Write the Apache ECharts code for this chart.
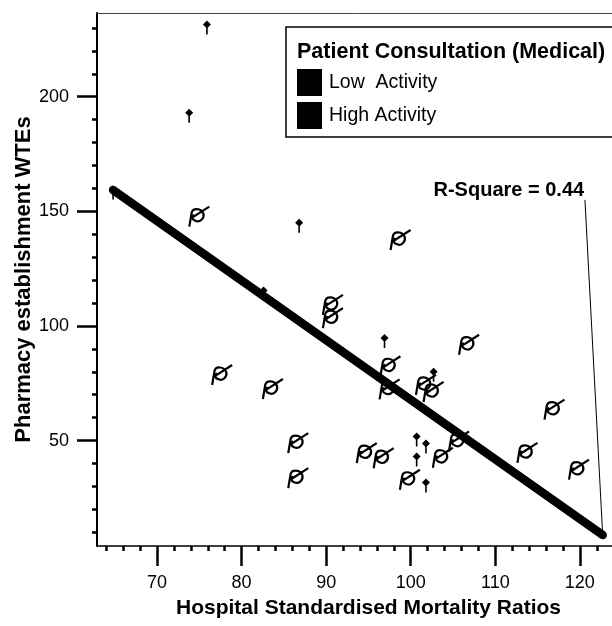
<!DOCTYPE html>
<html><head><meta charset="utf-8">
<script src="https://cdn.jsdelivr.net/npm/echarts@6/dist/echarts.min.js"></script>
<style>html,body{margin:0;padding:0;background:#fff}#c{width:612px;height:626px}</style>
</head><body><div id="c"></div>
<script>
// ---- data ----
const lowX = [75.9, 73.8, 86.8, 82.6, 96.9, 102.7, 100.7, 101.8, 100.7, 101.8, 64.8];
const lowY = [231.5, 193.0, 145.0, 115.4, 94.7, 80.0, 51.8, 48.7, 43.0, 31.7, 159.5];
const highX = [75.0, 98.8, 90.8, 90.8, 77.7, 83.7, 86.7, 86.7, 94.8, 96.8, 99.9, 103.8, 105.7, 106.9, 117.0, 113.8, 119.9, 97.6, 97.5, 101.8, 102.7];
const highY = [147.7, 137.5, 109.2, 103.4, 78.6, 72.5, 48.9, 33.6, 44.5, 42.3, 32.9, 42.5, 49.6, 91.8, 63.5, 44.6, 37.3, 82.4, 72.3, 74.3, 71.2];
const fitX = [64.8, 122.7];
const fitY = [159.3, 8.8];
const leaderX = [120.6, 122.7];
const leaderY = [155, 8.8];
const rSquareText = 'R-Square = 0.44';
const rSquareAt = [111.6, 159];
const xMajorTicks = [70, 80, 90, 100, 110, 120];
const xMinorTicks = [64, 66, 68, 72, 74, 76, 78, 82, 84, 86, 88, 92, 94, 96, 98, 102, 104, 106, 108, 112, 114, 116, 118, 122];
const yMajorTicks = [50, 100, 150, 200];
const yMinorTicks = [10, 20, 30, 40, 60, 70, 80, 90, 110, 120, 130, 140, 160, 170, 180, 190, 210, 220, 230];
const seriesNames = ['Low  Activity', 'High Activity'];
const legendTitle = 'Patient Consultation (Medical)';
const xTitle = 'Hospital Standardised Mortality Ratios';
const yTitle = 'Pharmacy establishment WTEs';

// ---- chart ----
const FONT = '"Liberation Sans", Arial, Helvetica, sans-serif';
const zip = (a, b) => a.map((v, i) => [v, b[i]]);
const XMIN = 62.9, XMAX = 123.8, YMIN = 4, YMAX = 236.5;
const diamondPath = 'path://M4,0 L8,4 L4,8 L0,4 Z M3.2,7 L4.8,7 L4.8,14 L3.2,14 Z';
const loopPath = 'path://M2,20 L4,8 C5,4 12,4 14,9 C15,13 11,17 7,15 C4,14 4,11 6,10 M5,12 L19,3';

const chart = echarts.init(document.getElementById('c'), null, {renderer: 'canvas'});
const base = {type: 'value', splitLine: {show: false}};
chart.setOption({
  animation: false,
  backgroundColor: '#fff',
  textStyle: {fontFamily: FONT, color: '#000'},
  title: {
    text: legendTitle, left: 297, top: 41, padding: 0,
    textStyle: {fontSize: 21.5, fontWeight: 'bold', color: '#000', fontFamily: FONT}
  },
  legend: {
    data: [
      {name: seriesNames[0], icon: 'rect', itemStyle: {color: '#000', borderWidth: 0, opacity: 1}},
      {name: seriesNames[1], icon: 'rect', itemStyle: {color: '#000', borderColor: '#000', borderWidth: 0, opacity: 1}}
    ],
    orient: 'vertical', left: 286, top: 27,
    itemWidth: 25, itemHeight: 27, itemGap: 6,
    padding: [42, 400, 8, 11],
    borderColor: '#000', borderWidth: 1.5,
    selectedMode: false,
    textStyle: {fontSize: 19.5, color: '#000', fontFamily: FONT, padding: [0, 0, 0, 2]}
  },
  grid: {left: 97, right: 0, top: 13, bottom: 80, containLabel: false},
  xAxis: [
    Object.assign({}, base, {
      min: XMIN, max: XMAX, position: 'bottom',
      axisLine: {show: true, onZero: false, lineStyle: {color: '#000', width: 1.5}},
      axisTick: {show: true, customValues: xMajorTicks, length: 20, lineStyle: {color: '#000', width: 2.5}},
      axisLabel: {customValues: xMajorTicks, margin: 28, fontSize: 18, color: '#000', fontFamily: FONT},
      name: xTitle, nameLocation: 'middle', nameGap: 52, nameMoveOverlap: false,
      nameTextStyle: {fontSize: 21, fontWeight: 'bold', color: '#000', fontFamily: FONT, padding: [0, 0, 0, 28]}
    }),
    Object.assign({}, base, {
      min: XMIN, max: XMAX, position: 'bottom',
      axisLine: {show: false, onZero: false},
      axisTick: {show: true, customValues: xMinorTicks, length: 5, lineStyle: {color: '#000', width: 2.5}},
      axisLabel: {show: false}
    }),
    Object.assign({}, base, {
      min: XMIN, max: XMAX, position: 'top',
      axisLine: {show: true, onZero: false, lineStyle: {color: '#444', width: 1}},
      axisTick: {show: false}, axisLabel: {show: false}
    })
  ],
  yAxis: [
    Object.assign({}, base, {
      min: YMIN, max: YMAX, position: 'left',
      axisLine: {show: true, onZero: false, lineStyle: {color: '#000', width: 2}},
      axisTick: {show: true, customValues: yMajorTicks, length: 20, lineStyle: {color: '#000', width: 2.5}},
      axisLabel: {customValues: yMajorTicks, margin: 28, fontSize: 18, color: '#000', fontFamily: FONT},
      name: yTitle, nameLocation: 'middle', nameGap: 62, nameMoveOverlap: false,
      nameTextStyle: {fontSize: 22, fontWeight: 'bold', color: '#000', fontFamily: FONT}
    }),
    Object.assign({}, base, {
      min: YMIN, max: YMAX, position: 'left',
      axisLine: {show: false, onZero: false},
      axisTick: {show: true, customValues: yMinorTicks, length: 5, lineStyle: {color: '#000', width: 2.5}},
      axisLabel: {show: false}
    })
  ],
  series: [
    {
      name: 'fit', type: 'line', data: zip(fitX, fitY), symbol: 'none', z: 3,
      lineStyle: {color: '#000', width: 8.5, cap: 'round'}, silent: true
    },
    {
      name: 'leader', type: 'line', data: zip(leaderX, leaderY), symbol: 'none', z: 3,
      lineStyle: {color: '#000', width: 1}, silent: true
    },
    {
      name: seriesNames[0], type: 'scatter', data: zip(lowX, lowY), z: 4,
      symbol: diamondPath, symbolSize: [8, 14], symbolOffset: [0, 3],
      itemStyle: {color: '#000', opacity: 1}
    },
    {
      name: seriesNames[1], type: 'scatter', data: zip(highX, highY), z: 4,
      symbol: loopPath, symbolSize: 20,
      itemStyle: {color: 'rgba(0,0,0,0)', borderColor: '#000', borderWidth: 2.2, opacity: 1}
    },
    {
      name: 'rsq', type: 'scatter', data: [rSquareAt], symbolSize: 1, z: 5,
      itemStyle: {color: 'rgba(0,0,0,0)', opacity: 1},
      label: {show: true, position: 'inside', formatter: rSquareText, fontSize: 20, fontWeight: 'bold', color: '#000', fontFamily: FONT}
    }
  ]
});
</script></body></html>
